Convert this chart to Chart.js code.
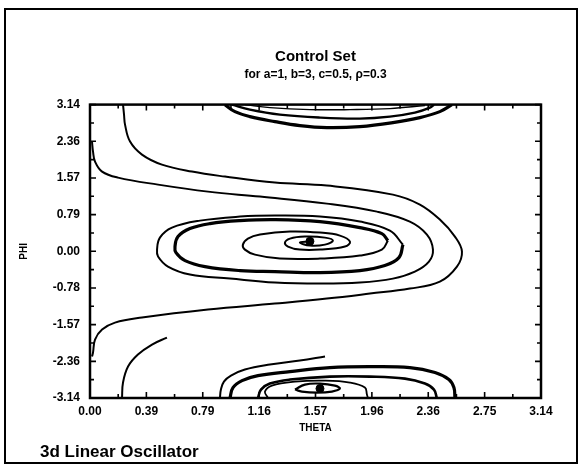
<!DOCTYPE html>
<html>
<head>
<meta charset="utf-8">
<script src="https://cdn.jsdelivr.net/npm/chart.js"></script>
<style>
  html, body { margin: 0; padding: 0; background: #fff; }
</style>
</head>
<body>
<canvas id="myChart" width="581" height="467"></canvas>
<script>

// tick labels as printed on the plot
const xTickLabels = ["0.00", "0.39", "0.79", "1.16", "1.57", "1.96", "2.36", "2.75", "3.14"];
const yTickLabels = ["-3.14", "-2.36", "-1.57", "-0.78", "0.00", "0.79", "1.57", "2.36", "3.14"];
const thetaMax = 3.1416;
const phiMin = -3.1416;
const phiMax = 3.1416;

// trajectories, [theta, phi]
const curveA = [[0.230,3.14],[0.237,2.927],[0.244,2.713],[0.279,2.349],[0.362,2.071],[0.501,1.857],[0.710,1.707],[0.940,1.600],[1.288,1.471],[1.650,1.407],[2.110,1.214],[2.298,1.000],[2.437,0.679],[2.542,0.315],[2.591,-0.006],[2.556,-0.328],[2.437,-0.649],[2.228,-0.799],[1.950,-0.906],[1.650,-1.013],[1.288,-1.120],[0.822,-1.248],[0.362,-1.420],[0.174,-1.527],[0.084,-1.677],[0.035,-1.891],[0.021,-2.169],[0.014,-2.255]];

const spiralOuter = [[0.014,2.349],[0.021,2.135],[0.035,1.921],[0.084,1.707],[0.195,1.578],[0.474,1.428],[0.822,1.278],[1.184,1.171],[1.650,1.021],[1.999,0.850],[2.228,0.636],[2.347,0.358],[2.389,0.036],[2.361,-0.221],[2.263,-0.435],[2.110,-0.585],[1.880,-0.670],[1.602,-0.692],[1.288,-0.670],[0.975,-0.585],[0.696,-0.499],[0.543,-0.328],[0.474,-0.113],[0.467,0.036],[0.487,0.293],[0.571,0.507],[0.766,0.657],[1.045,0.743],[1.288,0.764],[1.602,0.743],[1.880,0.636],[2.089,0.443],[2.180,0.143]];

const spiralThick = [[2.180,0.143],[2.152,-0.135],[2.054,-0.306],[1.880,-0.413],[1.602,-0.456],[1.288,-0.435],[1.045,-0.413],[0.801,-0.328],[0.662,-0.199],[0.599,-0.028],[0.592,0.101],[0.613,0.315],[0.696,0.486],[0.836,0.593],[1.045,0.657],[1.288,0.679],[1.602,0.636],[1.880,0.507],[2.033,0.379],[2.075,0.229]];

const spiralInner = [[2.075,0.229],[2.033,0.036],[1.880,-0.092],[1.602,-0.156],[1.323,-0.156],[1.149,-0.071],[1.079,0.036],[1.065,0.143],[1.100,0.272],[1.184,0.358],[1.393,0.422],[1.602,0.400],[1.741,0.336],[1.811,0.208],[1.776,0.101],[1.602,0.036],[1.462,0.036],[1.379,0.101],[1.358,0.186],[1.393,0.272],[1.497,0.315],[1.637,0.293],[1.692,0.229],[1.637,0.143],[1.532,0.122],[1.462,0.186],[1.532,0.208]];

const topOuter = [[0.940,3.14],[1.010,2.991],[1.114,2.884],[1.288,2.777],[1.462,2.692],[1.650,2.649],[1.880,2.670],[2.110,2.756],[2.298,2.863],[2.437,2.991],[2.521,3.14]];
const topMiddle = [[0.989,3.14],[1.114,3.034],[1.323,2.927],[1.602,2.863],[1.880,2.842],[2.089,2.884],[2.263,2.970],[2.368,3.077],[2.396,3.14]];
const topInner = [[1.079,3.14],[1.253,3.077],[1.532,3.034],[1.811,3.034],[2.089,3.056],[2.333,3.120]];

const curveD = [[0.223,-3.14],[0.230,-2.811],[0.265,-2.469],[0.334,-2.212],[0.432,-1.998],[0.536,-1.848]];
const curveE = [[0.905,-3.14],[0.912,-2.961],[0.933,-2.790],[0.982,-2.662],[1.079,-2.533],[1.253,-2.426],[1.462,-2.340],[1.637,-2.255]];
const botOuter = [[0.975,-3.14],[0.996,-2.919],[1.059,-2.769],[1.170,-2.662],[1.393,-2.576],[1.671,-2.490],[1.950,-2.469],[2.228,-2.490],[2.403,-2.597],[2.500,-2.747],[2.535,-2.919],[2.542,-3.14]];
const botSecond = [[1.170,-3.14],[1.191,-2.961],[1.253,-2.833],[1.393,-2.747],[1.671,-2.683],[1.950,-2.683],[2.194,-2.726],[2.333,-2.833],[2.396,-2.961],[2.416,-3.14]];
const botThin = [[1.240,-3.14],[1.219,-3.004],[1.267,-2.876],[1.428,-2.790],[1.637,-2.769],[1.811,-2.811],[1.915,-2.919],[1.929,-3.068],[1.936,-3.14]];
const botSmall = [[1.428,-2.961],[1.497,-2.854],[1.602,-2.833],[1.706,-2.876],[1.741,-2.940],[1.685,-3.004],[1.581,-3.026],[1.476,-3.004],[1.428,-2.961]];

const centers = [[1.532,0.214],[1.602,-2.940]];


const FONT = '"Liberation Sans", Arial, sans-serif';

function toPts(arr){
	return arr.map(p => ({x: p[0], y: p[1]}));
}

function curve(arr, w){
	return {
		data: toPts(arr),
		showLine: true,
		borderColor: '#000',
		borderWidth: w,
		pointRadius: 0,
		tension: 0.4,
		fill: false
	};
}

function tickValues(min, max){
	let vals = [];
	for(let i = 0; i <= 16; i++){
		vals.push(min + (max - min) * i / 16);
	}
	return vals;
}

// inward ticks on all four sides, box and page frame
const framePlugin = {
	id: 'framePlugin',
	afterDraw(chart){
		const ctx = chart.ctx;
		const a = chart.chartArea;
		const xs = chart.scales.x;
		const ys = chart.scales.y;
		ctx.save();
		ctx.strokeStyle = '#000';
		ctx.lineWidth = 1.6;
		ctx.beginPath();
		xs.ticks.forEach((t, i) => {
			const px = xs.getPixelForValue(t.value);
			const len = i % 2 ? 4 : 6;
			ctx.moveTo(px, a.bottom); ctx.lineTo(px, a.bottom - len);
			ctx.moveTo(px, a.top); ctx.lineTo(px, a.top + len);
		});
		ys.ticks.forEach((t, i) => {
			const py = ys.getPixelForValue(t.value);
			const len = i % 2 ? 4 : 6;
			ctx.moveTo(a.left, py); ctx.lineTo(a.left + len, py);
			ctx.moveTo(a.right, py); ctx.lineTo(a.right - len, py);
		});
		ctx.stroke();

		ctx.lineWidth = 2.5;
		ctx.strokeRect(a.left, a.top, a.right - a.left, a.bottom - a.top);

		ctx.lineWidth = 2;
		ctx.strokeRect(5, 9, 572, 454);

		ctx.fillStyle = '#000';
		ctx.font = 'bold 17px ' + FONT;
		ctx.textBaseline = 'middle';
		ctx.textAlign = 'left';
		ctx.fillText('3d Linear Oscillator', 40, 452);
		ctx.restore();
	}
};

const ctx = document.getElementById('myChart');

new Chart(ctx, {
	type: 'scatter',
	data: {
		datasets: [
			curve(curveA, 2),
			curve(spiralOuter, 2),
			curve(spiralThick, 3.2),
			curve(spiralInner, 2),
			curve(topOuter, 3.2),
			curve(topMiddle, 2.4),
			curve(topInner, 1.4),
			curve(curveD, 2),
			curve(curveE, 2),
			curve(botOuter, 3.2),
			curve(botSecond, 2.6),
			curve(botThin, 1.8),
			curve(botSmall, 2.2),
			{
				data: toPts(centers),
				pointRadius: 4,
				pointBackgroundColor: '#000',
				pointBorderColor: '#000',
				showLine: false
			}
		]
	},
	options: {
		responsive: false,
		animation: false,
		layout: { padding: { left: 0, right: 40, top: 0, bottom: 0 } },
		plugins: {
			legend: { display: false },
			tooltip: { enabled: false },
			title: {
				display: true,
				text: 'Control Set',
				fullSize: false,
				color: '#000',
				font: { family: FONT, size: 15, weight: 'bold' },
				padding: { top: 48, bottom: 0 }
			},
			subtitle: {
				display: true,
				text: 'for a=1, b=3, c=0.5, \u03c1=0.3',
				fullSize: false,
				color: '#000',
				font: { family: FONT, size: 12, weight: 'bold' },
				padding: { top: 1.6, bottom: 22.6 }
			}
		},
		scales: {
			x: {
				type: 'linear',
				min: 0,
				max: thetaMax,
				grid: { display: false, drawTicks: false },
				border: { display: false },
				afterBuildTicks: s => { s.ticks = tickValues(0, thetaMax).map(v => ({value: v})); },
				afterFit: s => { s.height = 69; s.paddingLeft = 0; s.paddingRight = 0; },
				ticks: {
					autoSkip: false,
					maxRotation: 0,
					padding: 6,
					color: '#000',
					font: { family: FONT, size: 12, weight: 'bold' },
					callback: (v, i) => i % 2 ? '' : xTickLabels[i / 2]
				},
				title: {
					display: true,
					text: 'THETA',
					color: '#000',
					font: { family: FONT, size: 10, weight: 'bold' },
					padding: { top: 0, bottom: 33 }
				}
			},
			y: {
				type: 'linear',
				min: phiMin,
				max: phiMax,
				grid: { display: false, drawTicks: false },
				border: { display: false },
				afterBuildTicks: s => { s.ticks = tickValues(phiMin, phiMax).map(v => ({value: v})); },
				afterFit: s => { s.width = 90; s.paddingTop = 0; s.paddingBottom = 0; },
				ticks: {
					autoSkip: false,
					padding: 10,
					color: '#000',
					font: { family: FONT, size: 12, weight: 'bold' },
					callback: (v, i) => i % 2 ? '' : yTickLabels[i / 2]
				},
				title: {
					display: true,
					text: 'PHI',
					color: '#000',
					font: { family: FONT, size: 10, weight: 'bold' },
					padding: { top: 18, bottom: 0 }
				}
			}
		}
	},
	plugins: [framePlugin]
});

</script>
</body>
</html>
